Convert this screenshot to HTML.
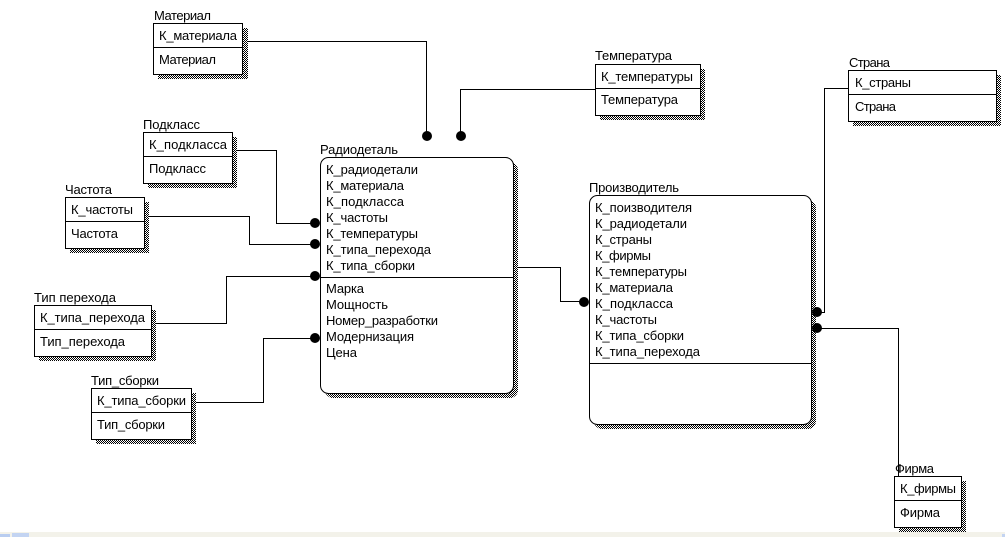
<!DOCTYPE html>
<html><head><meta charset="utf-8"><style>
html,body{margin:0;padding:0;background:#fff;width:1005px;height:537px;overflow:hidden}
svg{display:block}
text{font-family:"Liberation Sans",sans-serif;font-size:13px;fill:#000}
.l{fill:none;stroke:#000;stroke-width:1;shape-rendering:crispEdges}
.b{fill:#fff;stroke:#000;stroke-width:1;shape-rendering:crispEdges}
.s{fill:url(#d);shape-rendering:crispEdges}
</style></head><body>
<svg width="1005" height="537" viewBox="0 0 1005 537" xmlns="http://www.w3.org/2000/svg">
<defs><pattern id="d" width="2" height="2" patternUnits="userSpaceOnUse"><rect width="2" height="2" fill="#fff"/><rect width="1" height="1" fill="#000"/><rect x="1" y="1" width="1" height="1" fill="#000"/></pattern></defs>
<rect width="1005" height="537" fill="#fff"/>

<!-- connectors -->
<path class="l" d="M243 41.5H426.5V136"/>
<path class="l" d="M595 89.5H460.5V136"/>
<path class="l" d="M232 150.5H276.5V223.5H315"/>
<path class="l" d="M144 216.5H249.5V244.5H315"/>
<path class="l" d="M151 323.5H226.5V276.5H315"/>
<path class="l" d="M192 402.5H263.5V338.5H315"/>
<path class="l" d="M513 267.5H560.5V301.5H584"/>
<path class="l" d="M848 88.5H824.5V312.5H817"/>
<path class="l" d="M817 328.5H898.5V476"/>

<!-- Материал -->
<rect class="s" x="158" y="28" width="90" height="51"/><rect class="b" x="153.5" y="23.5" width="89" height="51"/><path class="l" d="M153 47.5H243"/>
<text x="154" y="20" textLength="57">Материал</text><text x="159" y="40" textLength="78">К_материала</text><text x="159" y="64" textLength="57">Материал</text>

<!-- Подкласс -->
<rect class="s" x="148" y="137" width="89" height="51"/><rect class="b" x="143.5" y="132.5" width="89" height="51"/><path class="l" d="M143 156.5H233"/>
<text x="143" y="129" textLength="57">Подкласс</text><text x="149" y="149" textLength="78">К_подкласса</text><text x="149" y="173" textLength="57">Подкласс</text>

<!-- Частота -->
<rect class="s" x="70" y="202" width="79" height="51"/><rect class="b" x="65.5" y="197.5" width="79" height="51"/><path class="l" d="M65 221.5H145"/>
<text x="65" y="194" textLength="47">Частота</text><text x="71" y="214" textLength="62">К_частоты</text><text x="71" y="238" textLength="47">Частота</text>

<!-- Тип перехода -->
<rect class="s" x="39" y="310" width="117" height="51"/><rect class="b" x="34.5" y="305.5" width="117" height="51"/><path class="l" d="M34 329.5H152"/>
<text x="34" y="302" textLength="82">Тип перехода</text><text x="40" y="322" textLength="105">К_типа_перехода</text><text x="40" y="346" textLength="85">Тип_перехода</text>

<!-- Тип_сборки -->
<rect class="s" x="96" y="393" width="100" height="51"/><rect class="b" x="91.5" y="388.5" width="100" height="51"/><path class="l" d="M91 412.5H192"/>
<text x="91" y="385" textLength="68">Тип_сборки</text><text x="97" y="405" textLength="89">К_типа_сборки</text><text x="97" y="429" textLength="68">Тип_сборки</text>

<!-- Температура -->
<rect class="s" x="600" y="69" width="105" height="51"/><rect class="b" x="595.5" y="64.5" width="105" height="51"/><path class="l" d="M595 88.5H701"/>
<text x="595" y="60" textLength="77">Температура</text><text x="601" y="81" textLength="92">К_температуры</text><text x="601" y="104" textLength="77">Температура</text>

<!-- Страна -->
<rect class="s" x="853" y="75" width="148" height="51"/><rect class="b" x="848.5" y="70.5" width="148" height="51"/><path class="l" d="M848 94.5H997"/>
<text x="849" y="67" textLength="41">Страна</text><text x="855" y="87" textLength="56">К_страны</text><text x="855" y="111" textLength="41">Страна</text>

<!-- Фирма -->
<rect class="s" x="899" y="481" width="67" height="51"/><rect class="b" x="894.5" y="476.5" width="67" height="51"/><path class="l" d="M894 500.5H962"/>
<text x="895" y="473" textLength="39">Фирма</text><text x="900" y="493" textLength="56">К_фирмы</text><text x="900" y="517" textLength="40">Фирма</text>

<!-- Радиодеталь -->
<rect x="325" y="162" width="193" height="236" rx="8" fill="url(#d)"/>
<rect x="320.5" y="157.5" width="193" height="236" rx="8" fill="#fff" stroke="#000"/>
<path class="l" d="M320 277.5H514"/>
<text x="320" y="154" textLength="78">Радиодеталь</text>
<text x="326" y="174" textLength="92">К_радиодетали</text>
<text x="326" y="190" textLength="78">К_материала</text>
<text x="326" y="206" textLength="78">К_подкласса</text>
<text x="326" y="222" textLength="62">К_частоты</text>
<text x="326" y="238" textLength="92">К_температуры</text>
<text x="326" y="254" textLength="105">К_типа_перехода</text>
<text x="326" y="270" textLength="89">К_типа_сборки</text>
<text x="326" y="293" textLength="38">Марка</text>
<text x="326" y="309" textLength="62">Мощность</text>
<text x="326" y="325" textLength="112">Номер_разработки</text>
<text x="326" y="341" textLength="88">Модернизация</text>
<text x="326" y="357" textLength="31">Цена</text>

<!-- Производитель -->
<rect x="594" y="200" width="222" height="229" rx="8" fill="url(#d)"/>
<rect x="589.5" y="195.5" width="222" height="229" rx="8" fill="#fff" stroke="#000"/>
<path class="l" d="M589 363.5H812"/>
<text x="589" y="192" textLength="90">Производитель</text>
<text x="595" y="212" textLength="97">К_поизводителя</text>
<text x="595" y="228" textLength="92">К_радиодетали</text>
<text x="595" y="244" textLength="57">К_страны</text>
<text x="595" y="260" textLength="56">К_фирмы</text>
<text x="595" y="276" textLength="92">К_температуры</text>
<text x="595" y="292" textLength="78">К_материала</text>
<text x="595" y="308" textLength="78">К_подкласса</text>
<text x="595" y="324" textLength="62">К_частоты</text>
<text x="595" y="340" textLength="89">К_типа_сборки</text>
<text x="595" y="356" textLength="105">К_типа_перехода</text>

<!-- dots -->
<g fill="#000">
<circle cx="427" cy="136" r="5"/><circle cx="461" cy="136" r="5"/>
<circle cx="315" cy="223" r="5"/><circle cx="315" cy="244" r="5"/><circle cx="315" cy="276" r="5"/><circle cx="315" cy="338" r="5"/>
<circle cx="584" cy="302" r="5"/><circle cx="817" cy="312" r="5"/><circle cx="817" cy="328" r="5"/>
</g>

<!-- status strip -->
<rect x="0" y="532" width="1005" height="5" fill="#f3f2ea"/>
<rect x="0" y="534" width="10" height="3" fill="#b9cdf0"/>
<rect x="12" y="533" width="17" height="4" fill="#c3d4f2"/>
<rect x="1002" y="534" width="3" height="3" fill="#c3d4f2"/>
</svg>
</body></html>
